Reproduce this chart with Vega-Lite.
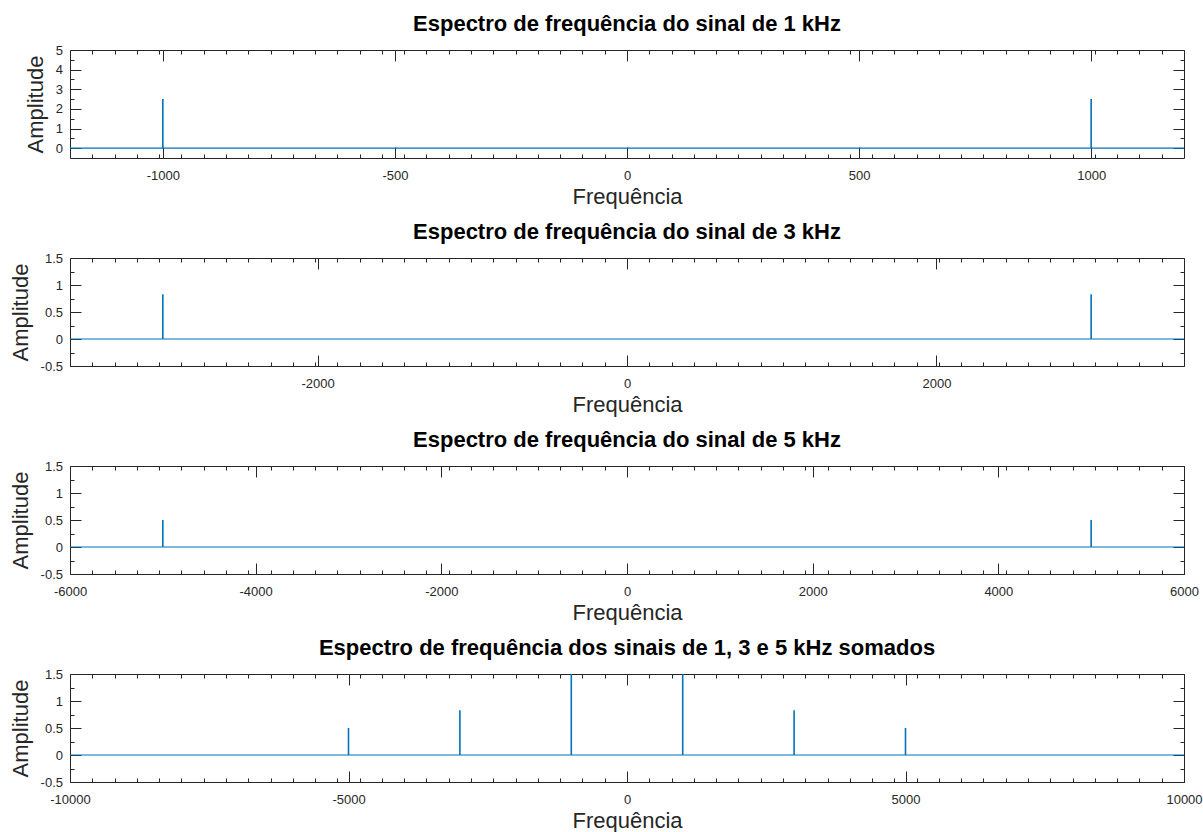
{
  "$schema": "https://vega.github.io/schema/vega-lite/v6.json",
  "padding": {"left": 9, "top": 13, "right": 5, "bottom": 0},
  "config": {
    "font": "Liberation Sans",
    "view": {"stroke": null},
    "axis": {"grid": false, "domainColor": "#262626", "domainWidth": 1, "tickColor": "#262626", "tickWidth": 1,
      "labelColor": "#262626", "labelFontSize": 13, "labelFont": "Liberation Sans", "titleColor": "#262626", "titleFontSize": 22,
      "titleFontWeight": "normal", "titleFont": "Liberation Sans", "labelFlush": false, "labelOverlap": false, "labelBound": false},
    "axisX": {"labelPadding": 22.5, "titlePadding": -3},
    "axisY": {"labelPadding": 18.5, "titlePadding": 8},
    "title": {"fontSize": 22, "fontWeight": "bold", "color": "#000000", "font": "Liberation Sans", "frame": "group", "anchor": "middle", "offset": 8}
  },
  "datasets": {
    "s1": [{"freq": -1000, "amp": 2.5}, {"freq": 1000, "amp": 2.5}],
    "s2": [{"freq": -3000, "amp": 0.83}, {"freq": 3000, "amp": 0.83}],
    "s3": [{"freq": -5000, "amp": 0.5}, {"freq": 5000, "amp": 0.5}],
    "s4": [{"freq": -5000, "amp": 0.5}, {"freq": -3000, "amp": 0.83}, {"freq": -1000, "amp": 2.5}, {"freq": 1000, "amp": 2.5}, {"freq": 3000, "amp": 0.83}, {"freq": 5000, "amp": 0.5}]
  },
  "bounds": "flush",
  "spacing": 100,
  "vconcat": [
    {
      "width": 1114, "height": 108,
      "title": {"text": "Espectro de frequência do sinal de 1 kHz"},
      "layer": [
        {"data": {"values": [{}]},
         "mark": {"type": "rule", "color": "#0072BD", "strokeWidth": 1.2},
         "encoding": {
           "x": {"datum": -1200, "type": "quantitative", "scale": {"domain": [-1200, 1200], "nice": false, "zero": false},
             "axis": {"orient": "top", "title": null, "labels": false,
               "values": [-1152,-1104,-1056,-1008,-1000,-960,-912,-864,-816,-768,-720,-672,-624,-576,-528,-500,-480,-432,-384,-336,-288,-240,-192,-144,-96,-48,0,48,96,144,192,240,288,336,384,432,480,500,528,576,624,672,720,768,816,864,912,960,1000,1008,1056,1104,1152],
               "tickSize": {"condition": {"test": "datum.value % 500 === 0", "value": -11}, "value": -4}}},
           "x2": {"datum": 1200},
           "y": {"datum": 0, "type": "quantitative", "scale": {"domain": [-0.5, 5], "nice": false, "zero": false},
             "axis": {"orient": "right", "title": null, "labels": false,
               "values": [0,0.5,1,1.5,2,2.5,3,3.5,4,4.5,5],
               "tickSize": {"condition": {"test": "datum.value % 1 === 0", "value": -11}, "value": -4}}}
         }},
        {"data": {"name": "s1"},
         "mark": {"type": "rule", "color": "#0072BD", "strokeWidth": 1.6, "clip": true},
         "encoding": {
           "x": {"field": "freq", "type": "quantitative", "scale": {"domain": [-1200, 1200], "nice": false, "zero": false},
             "axis": {"orient": "bottom", "title": "Frequência",
               "labelExpr": "datum.value % 500 === 0 ? '' + datum.value : ''",
               "values": [-1152,-1104,-1056,-1008,-1000,-960,-912,-864,-816,-768,-720,-672,-624,-576,-528,-500,-480,-432,-384,-336,-288,-240,-192,-144,-96,-48,0,48,96,144,192,240,288,336,384,432,480,500,528,576,624,672,720,768,816,864,912,960,1000,1008,1056,1104,1152],
               "tickSize": {"condition": {"test": "datum.value % 500 === 0", "value": -11}, "value": -4}}},
           "y": {"field": "amp", "type": "quantitative", "scale": {"domain": [-0.5, 5], "nice": false, "zero": false},
             "axis": {"orient": "left", "title": "Amplitude",
               "labelExpr": "datum.value % 1 === 0 ? '' + datum.value : ''",
               "values": [0,0.5,1,1.5,2,2.5,3,3.5,4,4.5,5],
               "tickSize": {"condition": {"test": "datum.value % 1 === 0", "value": -11}, "value": -4}}},
           "y2": {"datum": 0}
         }}
      ],
      "resolve": {"axis": {"x": "independent", "y": "independent"}}
    },
    {
      "width": 1114, "height": 108,
      "title": {"text": "Espectro de frequência do sinal de 3 kHz"},
      "layer": [
        {"data": {"values": [{}]},
         "mark": {"type": "rule", "color": "#0072BD", "strokeWidth": 1.2},
         "encoding": {
           "x": {"datum": -3600, "type": "quantitative", "scale": {"domain": [-3600, 3600], "nice": false, "zero": false},
             "axis": {"orient": "top", "title": null, "labels": false,
               "values": [-3456,-3312,-3168,-3024,-2880,-2736,-2592,-2448,-2304,-2160,-2016,-2000,-1872,-1728,-1584,-1440,-1296,-1152,-1008,-864,-720,-576,-432,-288,-144,0,144,288,432,576,720,864,1008,1152,1296,1440,1584,1728,1872,2000,2016,2160,2304,2448,2592,2736,2880,3024,3168,3312,3456],
               "tickSize": {"condition": {"test": "datum.value % 2000 === 0", "value": -11}, "value": -4}}},
           "x2": {"datum": 3600},
           "y": {"datum": 0, "type": "quantitative", "scale": {"domain": [-0.5, 1.5], "nice": false, "zero": false},
             "axis": {"orient": "right", "title": null, "labels": false,
               "values": [-0.5,-0.25,0,0.25,0.5,0.75,1,1.25,1.5],
               "tickSize": {"condition": {"test": "datum.value % 0.5 === 0", "value": -11}, "value": -4}}}
         }},
        {"data": {"name": "s2"},
         "mark": {"type": "rule", "color": "#0072BD", "strokeWidth": 1.6, "clip": true},
         "encoding": {
           "x": {"field": "freq", "type": "quantitative", "scale": {"domain": [-3600, 3600], "nice": false, "zero": false},
             "axis": {"orient": "bottom", "title": "Frequência",
               "labelExpr": "datum.value % 2000 === 0 ? '' + datum.value : ''",
               "values": [-3456,-3312,-3168,-3024,-2880,-2736,-2592,-2448,-2304,-2160,-2016,-2000,-1872,-1728,-1584,-1440,-1296,-1152,-1008,-864,-720,-576,-432,-288,-144,0,144,288,432,576,720,864,1008,1152,1296,1440,1584,1728,1872,2000,2016,2160,2304,2448,2592,2736,2880,3024,3168,3312,3456],
               "tickSize": {"condition": {"test": "datum.value % 2000 === 0", "value": -11}, "value": -4}}},
           "y": {"field": "amp", "type": "quantitative", "scale": {"domain": [-0.5, 1.5], "nice": false, "zero": false},
             "axis": {"orient": "left", "title": "Amplitude",
               "labelExpr": "datum.value % 0.5 === 0 ? '' + datum.value : ''",
               "values": [-0.5,-0.25,0,0.25,0.5,0.75,1,1.25,1.5],
               "tickSize": {"condition": {"test": "datum.value % 0.5 === 0", "value": -11}, "value": -4}}},
           "y2": {"datum": 0}
         }}
      ],
      "resolve": {"axis": {"x": "independent", "y": "independent"}}
    },
    {
      "width": 1114, "height": 108,
      "title": {"text": "Espectro de frequência do sinal de 5 kHz"},
      "layer": [
        {"data": {"values": [{}]},
         "mark": {"type": "rule", "color": "#0072BD", "strokeWidth": 1.2},
         "encoding": {
           "x": {"datum": -6000, "type": "quantitative", "scale": {"domain": [-6000, 6000], "nice": false, "zero": false},
             "axis": {"orient": "top", "title": null, "labels": false,
               "values": [-6000,-5760,-5520,-5280,-5040,-4800,-4560,-4320,-4080,-4000,-3840,-3600,-3360,-3120,-2880,-2640,-2400,-2160,-2000,-1920,-1680,-1440,-1200,-960,-720,-480,-240,0,240,480,720,960,1200,1440,1680,1920,2000,2160,2400,2640,2880,3120,3360,3600,3840,4000,4080,4320,4560,4800,5040,5280,5520,5760,6000],
               "tickSize": {"condition": {"test": "datum.value % 2000 === 0", "value": -11}, "value": -4}}},
           "x2": {"datum": 6000},
           "y": {"datum": 0, "type": "quantitative", "scale": {"domain": [-0.5, 1.5], "nice": false, "zero": false},
             "axis": {"orient": "right", "title": null, "labels": false,
               "values": [-0.5,-0.25,0,0.25,0.5,0.75,1,1.25,1.5],
               "tickSize": {"condition": {"test": "datum.value % 0.5 === 0", "value": -11}, "value": -4}}}
         }},
        {"data": {"name": "s3"},
         "mark": {"type": "rule", "color": "#0072BD", "strokeWidth": 1.6, "clip": true},
         "encoding": {
           "x": {"field": "freq", "type": "quantitative", "scale": {"domain": [-6000, 6000], "nice": false, "zero": false},
             "axis": {"orient": "bottom", "title": "Frequência",
               "labelExpr": "datum.value % 2000 === 0 ? '' + datum.value : ''",
               "values": [-6000,-5760,-5520,-5280,-5040,-4800,-4560,-4320,-4080,-4000,-3840,-3600,-3360,-3120,-2880,-2640,-2400,-2160,-2000,-1920,-1680,-1440,-1200,-960,-720,-480,-240,0,240,480,720,960,1200,1440,1680,1920,2000,2160,2400,2640,2880,3120,3360,3600,3840,4000,4080,4320,4560,4800,5040,5280,5520,5760,6000],
               "tickSize": {"condition": {"test": "datum.value % 2000 === 0", "value": -11}, "value": -4}}},
           "y": {"field": "amp", "type": "quantitative", "scale": {"domain": [-0.5, 1.5], "nice": false, "zero": false},
             "axis": {"orient": "left", "title": "Amplitude",
               "labelExpr": "datum.value % 0.5 === 0 ? '' + datum.value : ''",
               "values": [-0.5,-0.25,0,0.25,0.5,0.75,1,1.25,1.5],
               "tickSize": {"condition": {"test": "datum.value % 0.5 === 0", "value": -11}, "value": -4}}},
           "y2": {"datum": 0}
         }}
      ],
      "resolve": {"axis": {"x": "independent", "y": "independent"}}
    },
    {
      "width": 1114, "height": 108,
      "title": {"text": "Espectro de frequência dos sinais de 1, 3 e 5 kHz somados"},
      "layer": [
        {"data": {"values": [{}]},
         "mark": {"type": "rule", "color": "#0072BD", "strokeWidth": 1.2},
         "encoding": {
           "x": {"datum": -10000, "type": "quantitative", "scale": {"domain": [-10000, 10000], "nice": false, "zero": false},
             "axis": {"orient": "top", "title": null, "labels": false,
               "values": [-10000,-9600,-9200,-8800,-8400,-8000,-7600,-7200,-6800,-6400,-6000,-5600,-5200,-5000,-4800,-4400,-4000,-3600,-3200,-2800,-2400,-2000,-1600,-1200,-800,-400,0,400,800,1200,1600,2000,2400,2800,3200,3600,4000,4400,4800,5000,5200,5600,6000,6400,6800,7200,7600,8000,8400,8800,9200,9600,10000],
               "tickSize": {"condition": {"test": "datum.value % 5000 === 0", "value": -11}, "value": -4}}},
           "x2": {"datum": 10000},
           "y": {"datum": 0, "type": "quantitative", "scale": {"domain": [-0.5, 1.5], "nice": false, "zero": false},
             "axis": {"orient": "right", "title": null, "labels": false,
               "values": [-0.5,-0.25,0,0.25,0.5,0.75,1,1.25,1.5],
               "tickSize": {"condition": {"test": "datum.value % 0.5 === 0", "value": -11}, "value": -4}}}
         }},
        {"data": {"name": "s4"},
         "mark": {"type": "rule", "color": "#0072BD", "strokeWidth": 1.6, "clip": true},
         "encoding": {
           "x": {"field": "freq", "type": "quantitative", "scale": {"domain": [-10000, 10000], "nice": false, "zero": false},
             "axis": {"orient": "bottom", "title": "Frequência",
               "labelExpr": "datum.value % 5000 === 0 ? '' + datum.value : ''",
               "values": [-10000,-9600,-9200,-8800,-8400,-8000,-7600,-7200,-6800,-6400,-6000,-5600,-5200,-5000,-4800,-4400,-4000,-3600,-3200,-2800,-2400,-2000,-1600,-1200,-800,-400,0,400,800,1200,1600,2000,2400,2800,3200,3600,4000,4400,4800,5000,5200,5600,6000,6400,6800,7200,7600,8000,8400,8800,9200,9600,10000],
               "tickSize": {"condition": {"test": "datum.value % 5000 === 0", "value": -11}, "value": -4}}},
           "y": {"field": "amp", "type": "quantitative", "scale": {"domain": [-0.5, 1.5], "nice": false, "zero": false},
             "axis": {"orient": "left", "title": "Amplitude",
               "labelExpr": "datum.value % 0.5 === 0 ? '' + datum.value : ''",
               "values": [-0.5,-0.25,0,0.25,0.5,0.75,1,1.25,1.5],
               "tickSize": {"condition": {"test": "datum.value % 0.5 === 0", "value": -11}, "value": -4}}},
           "y2": {"datum": 0}
         }}
      ],
      "resolve": {"axis": {"x": "independent", "y": "independent"}}
    }
  ]
}
